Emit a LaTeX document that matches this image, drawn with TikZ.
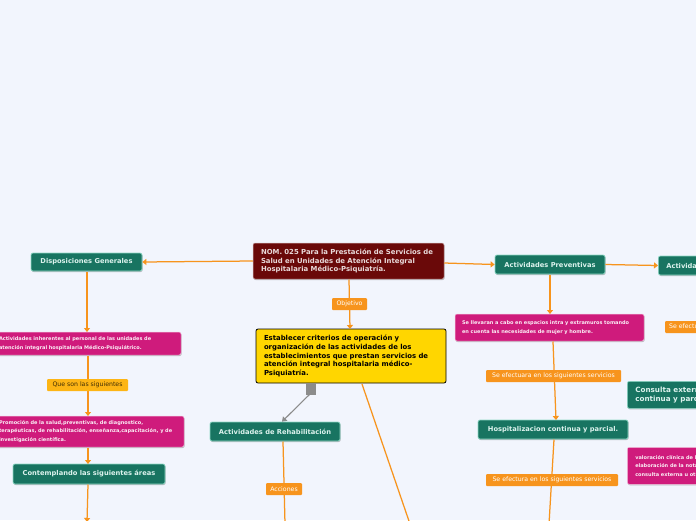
\documentclass[tikz,border=0pt]{standalone}
\usepackage{fontspec}
\setmainfont{DejaVu Sans}
\usetikzlibrary{arrows.meta,shadows}
\definecolor{bg}{HTML}{F2F5FD}
\definecolor{tealfill}{HTML}{187461}
\definecolor{tealborder}{HTML}{8FD9C6}
\definecolor{tealtext}{HTML}{DDF3EE}
\definecolor{magfill}{HTML}{CF1B7C}
\definecolor{orng}{HTML}{F7941D}
\definecolor{lblyel}{HTML}{FDB515}
\definecolor{darkred}{HTML}{6A0909}
\definecolor{yel}{HTML}{FFD600}
\definecolor{greyc}{HTML}{8C8C8C}
\begin{document}
\begin{tikzpicture}[x=1pt,y=-1pt,
  shad/.style={drop shadow={opacity=0.25,shadow xshift=0.6pt,shadow yshift=-1pt,fill=black}},
  tealbox/.style={shad,draw=tealborder,fill=tealfill,rounded corners=2pt,text=tealtext,
    font=\bfseries\fontsize{6.7}{8}\selectfont,inner sep=0pt,line width=0.7pt},
  magbox/.style={shad,draw=white!75!magfill,fill=magfill,rounded corners=2pt,text=white!92!magfill,
    font=\bfseries\fontsize{5}{8.3}\selectfont,inner sep=0pt,align=left,line width=0.5pt},
  lbl/.style={fill=orng,rounded corners=1pt,text=white,font=\fontsize{6.2}{7}\selectfont,
    inner sep=0pt,minimum height=12pt},
  conn/.style={draw=orng,line width=1.25pt},
  arr/.style={conn,-{Triangle[width=6pt,length=4pt]}}
]
\useasboundingbox (0,0) rectangle (696,520);
\clip (0,0) rectangle (696,520);
\fill[bg] (0,0) rectangle (696,520);

% nodes
\node[shad,fill=darkred,draw=white!70!darkred,rounded corners=2pt,line width=0.5pt,
  minimum width=191pt,minimum height=36pt,inner sep=0pt,text width=175pt,align=left,
  text=white!85!darkred,font=\bfseries\fontsize{6.9}{8.6}\selectfont]
  (main) at (348.5,261) {NOM. 025 Para la Prestación de Servicios de\\Salud en Unidades de Atención Integral\\Hospitalaria Médico-Psiquiatría.};

\node[fill=yel,draw=black,rounded corners=2pt,line width=0.8pt,
  minimum width=190pt,minimum height=54pt,inner sep=0pt,text width=174pt,align=left,
  font=\bfseries\fontsize{6.9}{8.6}\selectfont]
  (obj) at (351,356) {Establecer criterios de operación y\\organización de las actividades de los\\establecimientos que prestan servicios de\\atención integral hospitalaria médico-\\Psiquiatría.};

\node[tealbox,minimum width=130pt,minimum height=19pt] (rehab) at (275,431.5) {Actividades de Rehabilitación};
\node[tealbox,minimum width=111pt,minimum height=18pt] (disp) at (86.5,262) {Disposiciones Generales};
\node[magbox,minimum width=191pt,minimum height=23pt,text width=173pt] (mag1) at (85.5,343.5)
  {Actividades inherentes al personal de las unidades de\\atención integral hospitalaria Médico-Psiquiátrico.};
\node[magbox,minimum width=194pt,minimum height=31pt,text width=176pt] (mag2) at (87,431.5)
  {Promoción de la salud,preventivas, de diagnostico,\\terapéuticas, de rehabilitación, enseñanza,capacitación, y de\\investigación científica.};
\node[tealbox,minimum width=152pt,minimum height=20pt] (cont) at (89,474) {Contemplando las siguientes áreas};

\node[tealbox,minimum width=110pt,minimum height=19pt] (prev) at (550,264.5) {Actividades Preventivas};
\node[tealbox,minimum height=19pt,anchor=west,inner xsep=8pt] (cur) at (658,265.5) {Actividades Curativas};
\node[magbox,minimum width=189pt,minimum height=27pt,text width=175pt] (mag3) at (549.5,327.5)
  {Se llevaran a cabo en espacios intra y extramuros tomando\\en cuenta las necesidades de mujer y hombre.};
\node[tealbox,minimum height=27pt,anchor=north west,inner xsep=8pt,align=left,
  font=\bfseries\fontsize{7.2}{8.6}\selectfont] (cons) at (627,381)
  {Consulta externa, hospitalización\\continua y parcial.};
\node[tealbox,minimum width=150pt,minimum height=19pt] (hosp) at (553,429.5) {Hospitalizacion continua y parcial.};
\node[magbox,minimum height=37pt,anchor=north west,inner xsep=8pt] (mag4) at (627,447)
  {valoración clínica de los pacientes y\\elaboración de la nota médica en\\consulta externa u otros servicios};

% connectors
\coordinate (endA) at (87,522);
\coordinate (endB) at (410,524);
\coordinate (endC) at (285,524);
\coordinate (endD) at (549,524);

\draw[arr] (main.west) -- (disp.east);
\draw[arr] (87,271.5) -- (87,332);
\draw[arr] (88,355.5) -- (88,416);
\draw[arr] (88,447.5) -- (88,464);
\draw[arr] (88,484.5) -- (endA);
\draw[arr] (349,279.5) -- (350,329);
\draw[conn] (362,384) -- (endB);
\draw[conn] (283,441.5) -- (endC);
\draw[arr] (main.east |- 0,263) -- (prev.west);
\draw[arr] (prev.east) -- (cur.west);
\draw[arr] (550,274.5) -- (550,314);
\draw[arr] (553,341.5) -- (556,420);
\draw[conn] (554,439.5) -- (endD);

\fill[greyc] (306,383) rectangle (316,395);
\draw[greyc,line width=1.1pt,-{Triangle[width=6pt,length=4.5pt]}] (311,393) -- (rehab.north -| 282,0);

% labels
\node[lbl,minimum width=35pt] (lobj) at (349.5,304) {Objetivo};
\node[lbl,fill=lblyel,text=black!75!lblyel,minimum width=81pt] (lque) at (87.5,385) {Que son las siguientes};
\node[lbl,minimum width=36pt] (lacc) at (284,489) {Acciones};
\node[lbl,minimum width=135pt] (lsv1) at (553.5,376) {Se efectuara en los siguientes servicios};
\node[lbl,minimum width=132pt] (lsv2) at (552,480) {Se efectura en los siguientes servicios};
\node[lbl,anchor=west,inner xsep=4pt] (lsv3) at (665,327) {Se efectuaran en los siguientes servicios};
\end{tikzpicture}
\end{document}
